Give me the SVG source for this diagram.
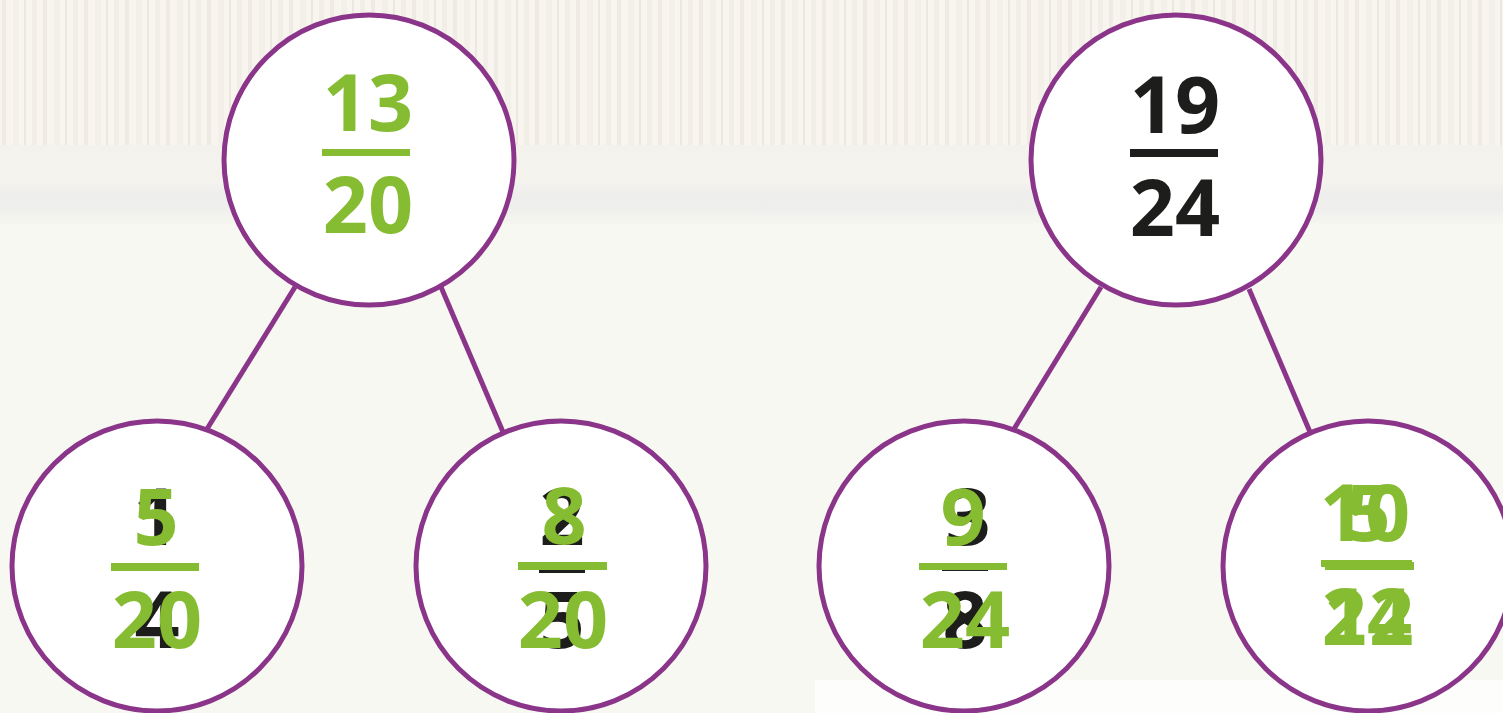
<svg xmlns="http://www.w3.org/2000/svg" width="1503" height="713" viewBox="0 0 1503 713">
<style>
.node{fill:#ffffff;stroke:#8a3589;stroke-width:5}
.edge{stroke:#8a3589;stroke-width:5;fill:none}
.t{font-family:"Open Sans","Liberation Sans",sans-serif;font-weight:700;font-size:79px;text-anchor:middle}
.g{fill:#86bc31}
.k{fill:#1d1d1b}
</style>
<defs>
<pattern id="stripes" x="0" y="0" width="41" height="150" patternUnits="userSpaceOnUse">
<rect width="41" height="150" fill="#f8f5ef"/>
<rect x="2" width="4" height="150" fill="#efebe4"/>
<rect x="13" width="6" height="150" fill="#f3f0e9"/>
<rect x="24" width="2" height="150" fill="#ece8e1"/>
<rect x="32" width="5" height="150" fill="#f1eee7"/>
</pattern>
<linearGradient id="band" x1="0" y1="0" x2="0" y2="1">
<stop offset="0" stop-color="#f4f2ec"/>
<stop offset="0.45" stop-color="#f4f3ee"/>
<stop offset="0.6" stop-color="#eeeeed"/>
<stop offset="0.8" stop-color="#efefee"/>
<stop offset="1" stop-color="#f6f7f0"/>
</linearGradient>
</defs>
<g id="background">
<rect width="1503" height="713" fill="#f7f8f1"/>
<rect width="1503" height="145" fill="url(#stripes)"/>
<rect y="145" width="1503" height="80" fill="url(#band)"/>
<rect x="815" y="680" width="688" height="33" fill="#fdfdfb"/>
</g>
<g id="connectors">
<line class="edge" x1="295" y1="287" x2="207" y2="429"/>
<line class="edge" x1="441" y1="287" x2="503" y2="432"/>
<line class="edge" x1="1101" y1="287" x2="1014" y2="429"/>
<line class="edge" x1="1249" y1="289" x2="1310" y2="432"/>
</g>
<g id="node-13-20">
<circle class="node" cx="369" cy="160" r="145"/>
<text class="t g" x="368" y="131">13</text>
<rect class="g" x="322" y="149" width="88" height="7"/>
<text class="t g" x="368" y="233">20</text>
</g>
<g id="node-19-24">
<circle class="node" cx="1176" cy="160" r="145"/>
<text class="t k" x="1175" y="133">19</text>
<rect class="k" x="1130" y="149" width="88" height="8"/>
<text class="t k" x="1175" y="236">24</text>
</g>
<g id="node-5-20">
<circle class="node" cx="157" cy="566" r="145"/>
<text class="t k" x="156" y="545">1</text>
<rect class="k" x="134" y="564" width="46" height="7"/>
<text class="t k" x="157" y="648">4</text>
<text class="t g" x="156" y="545">5</text>
<rect class="g" x="111" y="563" width="88" height="8"/>
<text class="t g" x="157" y="648">20</text>
</g>
<g id="node-8-20">
<circle class="node" cx="561" cy="566" r="145"/>
<text class="t k" x="562" y="545">2</text>
<rect class="k" x="539" y="566" width="46" height="7"/>
<text class="t k" x="562" y="648">5</text>
<text class="t g" x="564" y="544">8</text>
<rect class="g" x="518" y="562" width="89" height="8"/>
<text class="t g" x="563" y="648">20</text>
</g>
<g id="node-9-24">
<circle class="node" cx="964" cy="566" r="145"/>
<text class="t k" x="968" y="545">3</text>
<rect class="k" x="942" y="564" width="46" height="7"/>
<text class="t k" x="965" y="648">8</text>
<text class="t g" x="963" y="545">9</text>
<rect class="g" x="919" y="563" width="88" height="7"/>
<text class="t g" x="965" y="648">24</text>
</g>
<g id="node-10-24">
<circle class="node" cx="1368" cy="566" r="145"/>
<text class="t g" x="1368" y="541">5</text>
<rect class="g" x="1325" y="562" width="89" height="8"/>
<text class="t g" x="1369" y="645">12</text>
<text class="t g" x="1365" y="541">10</text>
<rect class="g" x="1321" y="560" width="91" height="7"/>
<text class="t g" x="1367" y="645">24</text>
</g>
</svg>
